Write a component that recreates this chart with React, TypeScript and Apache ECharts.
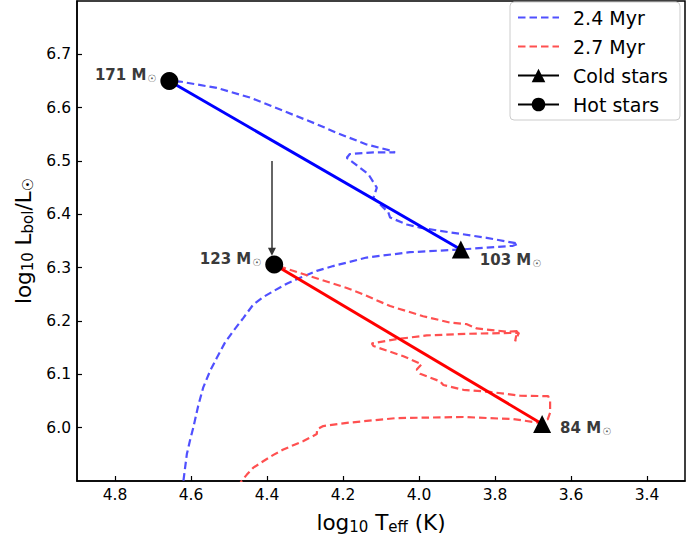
import React, { useEffect, useRef } from "react";
import * as echarts from "echarts";

// 2.4 Myr isochrone (log Teff, log L)
const iso24T = [4.628, 4.620, 4.611, 4.603, 4.594, 4.581, 4.568, 4.550, 4.532, 4.511, 4.489, 4.462, 4.436, 4.410, 4.383, 4.348, 4.313, 4.269, 4.226, 4.138, 4.024, 3.892, 3.753, 3.739, 3.822, 3.945, 3.997, 4.032, 4.076, 4.081, 4.120, 4.111, 4.133, 4.173, 4.190, 4.182, 4.120, 4.063, 4.072, 4.138, 4.217, 4.269, 4.357, 4.445, 4.532, 4.629, 4.657];
const iso24L = [5.880, 5.900, 5.950, 5.975, 6.000, 6.041, 6.075, 6.106, 6.131, 6.159, 6.181, 6.206, 6.231, 6.245, 6.256, 6.270, 6.281, 6.294, 6.303, 6.319, 6.329, 6.334, 6.341, 6.345, 6.356, 6.369, 6.375, 6.381, 6.394, 6.404, 6.431, 6.450, 6.475, 6.497, 6.506, 6.513, 6.516, 6.516, 6.519, 6.531, 6.553, 6.569, 6.594, 6.619, 6.637, 6.649, 6.650];

// 2.7 Myr isochrone
const iso27T = [4.476, 4.467, 4.453, 4.436, 4.410, 4.383, 4.357, 4.331, 4.304, 4.269, 4.268, 4.252, 4.190, 4.059, 3.883, 3.752, 3.682, 3.661, 3.655, 3.655, 3.660, 3.734, 3.813, 3.883, 3.936, 3.945, 3.997, 4.006, 3.993, 4.041, 4.120, 4.124, 4.059, 3.980, 3.874, 3.737, 3.747, 3.742, 3.769, 3.848, 3.874, 3.918, 3.989, 4.076, 4.147, 4.190, 4.357, 4.381];
const iso27L = [5.889, 5.900, 5.912, 5.925, 5.937, 5.949, 5.959, 5.967, 5.975, 5.988, 5.997, 6.003, 6.009, 6.018, 6.020, 6.016, 6.009, 6.016, 6.028, 6.050, 6.059, 6.060, 6.067, 6.071, 6.080, 6.087, 6.101, 6.109, 6.119, 6.134, 6.153, 6.158, 6.166, 6.173, 6.176, 6.178, 6.162, 6.181, 6.180, 6.186, 6.194, 6.197, 6.209, 6.228, 6.250, 6.262, 6.300, 6.306];

// Hot and cold stars
const hotT = [4.657, 4.381];
const hotL = [6.650, 6.306];
const hotMass = [171, 123];
const coldT = [3.890, 3.676];
const coldL = [6.334, 6.007];
const coldMass = [103, 84];

// Arrow
const arrowT = [4.387, 4.387];
const arrowL = [6.500, 6.330];

// Ticks
const xTicks = [4.8, 4.6, 4.4, 4.2, 4.0, 3.8, 3.6, 3.4];
const yTicks = [6.0, 6.1, 6.2, 6.3, 6.4, 6.5, 6.6, 6.7];

const FONT = "DejaVu Sans";

const zip = (a: number[], b: number[]) => a.map((v, i) => [v, b[i]]);

const massRich = {
  b: { fontFamily: FONT, fontWeight: "bold", fontSize: 15, color: "#3a3a3a", lineHeight: 18 },
  s: { fontFamily: FONT, fontSize: 10, color: "#555", lineHeight: 18, padding: [7, 0, 0, 1] },
};

const hotLabel = [
  { position: "left", distance: 3, offset: [-1, -6] },
  { position: "left", distance: 3, offset: [-1, -5] },
];
const coldLabel = [
  { position: "right", distance: 8, offset: [2, 10] },
  { position: "right", distance: 8, offset: [1, 4] },
];

function starData(ts: number[], ls: number[], masses: number[], labels: any[]) {
  const out: any[] = [];
  ts.forEach((t, i) => {
    if (i > 0) out.push(["-", "-"]);
    out.push({
      value: [t, ls[i]],
      label: {
        show: true,
        ...labels[i],
        formatter: `{b|${masses[i]} M}{s|☉}`,
        rich: massRich,
      },
    });
  });
  return out;
}

export default function App() {
  const ref = useRef<HTMLDivElement>(null);
  useEffect(() => {
    if (!ref.current) return;
    const chart = echarts.init(ref.current, undefined, { renderer: "svg" });
    const axisNameRich = {
      a: { fontFamily: FONT, fontSize: 21.5, color: "#000", lineHeight: 26 },
      s: { fontFamily: FONT, fontSize: 15, color: "#000", lineHeight: 26, padding: [9, 0, 0, 0] },
    };
    const dash = [7.5, 4];
    const option: any = {
      animation: false,
      grid: {
        left: 77,
        right: 12,
        top: 1,
        bottom: 55,
        show: true,
        borderColor: "#000",
        borderWidth: 1.5,
        backgroundColor: "transparent",
        outerBoundsMode: "none",
        containLabel: false,
      },
      legend: {
        data: [
          { name: "2.4 Myr", itemStyle: { opacity: 0 } },
          { name: "2.7 Myr", itemStyle: { opacity: 0 } },
          { name: "Cold stars" },
          { name: "Hot stars" },
        ],
        orient: "vertical",
        left: 510,
        top: 2,
        padding: [6, 12, 6, 7],
        itemWidth: 41,
        itemHeight: 17,
        itemGap: 10,
        borderColor: "#cccccc",
        borderWidth: 1,
        borderRadius: 4,
        backgroundColor: "#ffffff",
        textStyle: { fontFamily: FONT, fontSize: 19, color: "#000", padding: [0, 0, 0, 9] },
      },
      xAxis: {
        type: "value",
        min: 3.3,
        max: 4.9,
        inverse: true,
        name: "{a|log}{s|10}{a| T}{s|eff}{a| (K)}",
        nameLocation: "middle",
        nameGap: 28,
        nameTextStyle: { rich: axisNameRich },
        axisLine: { show: true, lineStyle: { color: "#000", width: 1.5 } },
        axisTick: { show: true, inside: true, length: 5, customValues: xTicks, lineStyle: { color: "#000", width: 1.2 } },
        axisLabel: {
          customValues: xTicks,
          formatter: (v: number) => v.toFixed(1),
          fontFamily: FONT,
          fontSize: 15.5,
          color: "#000",
          margin: 6,
        },
        splitLine: { show: false },
      },
      yAxis: {
        type: "value",
        min: 5.9,
        max: 6.8,
        name: "{a|log}{s|10}{a| L}{s|bol}{a|/L}{s|☉}",
        nameLocation: "middle",
        nameGap: 40,
        nameRotate: 90,
        nameTextStyle: { rich: axisNameRich },
        axisLine: { show: true, lineStyle: { color: "#000", width: 1.5 } },
        axisTick: { show: true, inside: true, length: 5, customValues: yTicks, lineStyle: { color: "#000", width: 1.2 } },
        axisLabel: {
          customValues: yTicks,
          formatter: (v: number) => v.toFixed(1),
          fontFamily: FONT,
          fontSize: 15.5,
          color: "#000",
          margin: 6,
        },
        splitLine: { show: false },
      },
      series: [
        {
          name: "2.4 Myr",
          type: "line",
          data: zip(iso24T, iso24L),
          symbol: "none",
          lineStyle: { color: "#5050ff", width: 2.2, type: dash },
          itemStyle: { color: "#5050ff" },
          z: 2,
        },
        {
          name: "2.7 Myr",
          type: "line",
          data: zip(iso27T, iso27L),
          symbol: "none",
          lineStyle: { color: "#ff5050", width: 2.2, type: dash },
          itemStyle: { color: "#ff5050" },
          z: 2,
        },
        {
          name: "pair-blue",
          type: "line",
          data: [[hotT[0], hotL[0]], [coldT[0], coldL[0]]],
          symbol: "none",
          lineStyle: { color: "#0000ff", width: 3 },
          z: 3,
        },
        {
          name: "pair-red",
          type: "line",
          data: [[hotT[1], hotL[1]], [coldT[1], coldL[1]]],
          symbol: "none",
          lineStyle: { color: "#ff0000", width: 3 },
          z: 3,
        },
        {
          name: "arrow",
          type: "line",
          data: [],
          symbol: "none",
          markLine: {
            silent: true,
            symbol: ["none", "triangle"],
            symbolSize: [8, 8],
            label: { show: false },
            lineStyle: { color: "#333", width: 1.5, type: "solid" },
            itemStyle: { color: "#000" },
            data: [[{ coord: [arrowT[0], arrowL[0]] }, { coord: [arrowT[1], arrowL[1]] }]],
          },
          z: 4,
        },
        {
          name: "Cold stars",
          type: "line",
          data: starData(coldT, coldL, coldMass, coldLabel),
          connectNulls: false,
          symbol: "triangle",
          symbolSize: 18,
          showAllSymbol: true,
          lineStyle: { color: "#000", width: 2 },
          itemStyle: { color: "#000" },
          z: 5,
        },
        {
          name: "Hot stars",
          type: "line",
          data: starData(hotT, hotL, hotMass, hotLabel),
          connectNulls: false,
          symbol: "circle",
          symbolSize: 18,
          showAllSymbol: true,
          lineStyle: { color: "#000", width: 2 },
          itemStyle: { color: "#000" },
          z: 5,
        },
      ],
    };
    chart.setOption(option);
    return () => chart.dispose();
  }, []);
  return (
    <div
      ref={ref}
      style={{ position: "absolute", left: 0, top: 0, width: 697, height: 536 }}
    />
  );
}
